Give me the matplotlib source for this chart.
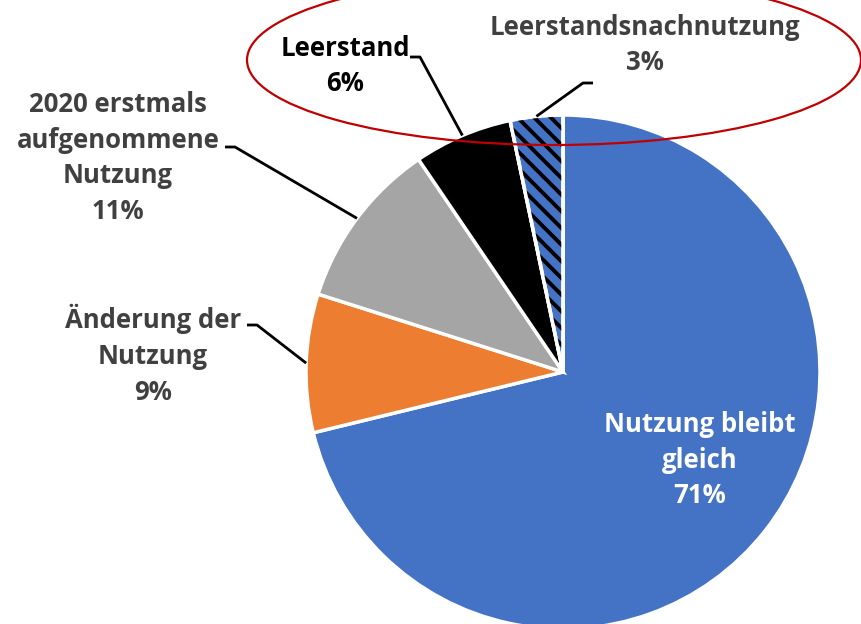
import numpy as np
import matplotlib
matplotlib.use("Agg")
import matplotlib.pyplot as plt
from matplotlib.patches import Ellipse, Wedge

# data (shares; labels show rounded values)
names = ["Nutzung bleibt\ngleich", "Änderung der\nNutzung",
         "2020 erstmals\naufgenommene\nNutzung", "Leerstand",
         "Leerstandsnachnutzung"]
values = [71.2, 8.7, 10.6, 6.2, 3.3]
colors = ["#4472C4", "#ED7D31", "#A5A5A5", "#000000", "#4472C4"]

W, H = 861, 624
plt.rcParams["font.family"] = ["Open Sans", "DejaVu Sans"]
plt.rcParams["hatch.linewidth"] = 2.8

fig = plt.figure(figsize=(W / 100, H / 100), dpi=100)
ax = fig.add_axes([0, 0, 1, 1])

cx, cy, r = 563, H - 372, 257
wedges, _ = ax.pie(values, colors=colors, startangle=90, counterclock=False,
                   center=(cx, cy), radius=r, frame=True,
                   wedgeprops=dict(edgecolor="white", linewidth=2.5))
ax.set_xlim(0, W)
ax.set_ylim(0, H)
ax.set_aspect("equal")
ax.axis("off")

# hatched overlay on last slice
hw = wedges[4]
ax.add_patch(Wedge((cx, cy), r, hw.theta1, hw.theta2, facecolor="none",
                   edgecolor="black", hatch="\\\\", linewidth=0))
ax.add_patch(Wedge((cx, cy), r, hw.theta1, hw.theta2, facecolor="none",
                   edgecolor="white", linewidth=2.5))

def py(y):
    return H - y

txt = "#404040"
fs = 18.5
# label centres (pixel coords) and leader elbows
lab = {
    0: dict(xy=(700, 460), color="white"),
    1: dict(xy=(153, 355), color=txt, elbow=[(247, 325), (257, 325)]),
    2: dict(xy=(118, 158), color=txt, elbow=[(225, 147), (235, 147)]),
    3: dict(xy=(345, 66), color="black", elbow=[(410, 57), (420, 57)]),
    4: dict(xy=(645, 45), color=txt, elbow=[(593, 83), (583, 83)]),
}
for i, d in lab.items():
    s = "%s\n%d%%" % (names[i], round(values[i]))
    ax.text(d["xy"][0], py(d["xy"][1]), s, ha="center", va="center",
            color=d["color"], fontsize=fs, fontweight="bold", linespacing=1.42,
            zorder=5)
    if "elbow" in d:
        w = wedges[i]
        mid = np.deg2rad((w.theta1 + w.theta2) / 2)
        ex, ey = cx + r * np.cos(mid), cy + r * np.sin(mid)
        xs = [d["elbow"][0][0], d["elbow"][1][0], ex]
        ys = [py(d["elbow"][0][1]), py(d["elbow"][1][1]), ey]
        ax.plot(xs, ys, color="black", lw=2, zorder=4, solid_capstyle="butt")

ax.add_patch(Ellipse((554, py(60)), 614, 170, facecolor="none",
                     edgecolor="#C00000", lw=1.6, zorder=6))

fig.savefig("out.png", dpi=100)
